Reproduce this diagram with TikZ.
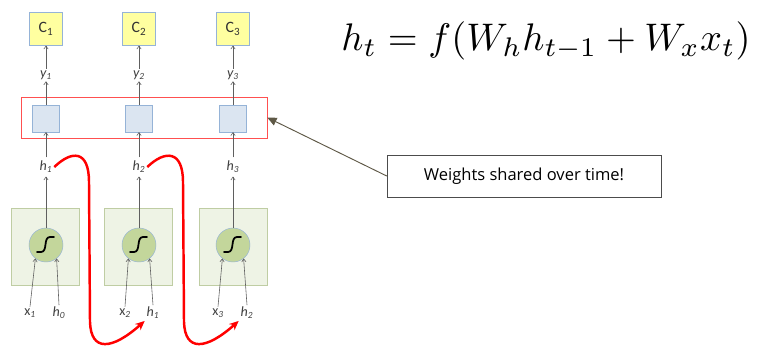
\documentclass[tikz,border=0pt]{standalone}
\usepackage{fontspec}
\usepackage{graphicx}
\usepackage{tikz}
\usetikzlibrary{arrows.meta, positioning}
\newfontfamily\labelfont{Carlito}
\newfontfamily\notefont{Open Sans}
\definecolor{outyellow}{RGB}{255,255,160}
\definecolor{cellblue}{RGB}{149,179,215}
\definecolor{celllight}{RGB}{219,229,241}
\definecolor{rnngreen}{RGB}{195,214,155}
\definecolor{rnnlight}{RGB}{238,243,229}
\definecolor{sharedred}{RGB}{255,80,80}
\definecolor{labelgray}{RGB}{64,64,64}
\definecolor{arrowgray}{RGB}{95,95,95}
\definecolor{noteolive}{RGB}{94,88,70}
\tikzset{
  outbox/.style={rectangle, draw=cellblue, fill=outyellow, minimum size=0.99cm,
    inner sep=0pt, font=\labelfont\fontsize{13.5}{15}\selectfont, text=black!80},
  cellbox/.style={rectangle, draw=cellblue, fill=celllight, minimum size=0.81cm},
  rnnbox/.style={rectangle, draw=rnngreen!90!black!80, fill=rnnlight,
    minimum width=2.04cm, minimum height=2.31cm},
  sigmoid/.style={circle, draw=cellblue, fill=rnngreen, minimum size=1.02cm, inner sep=0pt},
  lbl/.style={inner sep=1.5pt, font=\labelfont\itshape\fontsize{12}{13}\selectfont, text=labelgray},
  arrow/.style={-{To[length=3pt,width=4pt]}, color=arrowgray, line width=0.5pt},
  recur/.style={-{Stealth[length=8pt,width=7pt]}, line width=2.1pt, color=red},
  note/.style={rectangle, draw=black!70, fill=white, minimum width=8.22cm,
    minimum height=1.26cm, font=\notefont\fontsize{14.1}{16}\selectfont, text=black},
}

\begin{document}
\begin{tikzpicture}[x=0.03cm, y=-0.03cm]
  \useasboundingbox (0,0) rectangle (758,351);
  % formula
  \node (eq) at (546,41) {\scalebox{3.28}{$h_t = f(W_h h_{t-1} + W_x x_t)$}};
  % shared weights
  \node[draw=sharedred, minimum width=7.38cm, minimum height=1.23cm]
    (shared) at (144,117.5) {};
  \node[outbox] (c1) at (46,29) {C\textsubscript{1}};
  \node[outbox] (c2) at (139,29) {C\textsubscript{2}};
  \node[outbox] (c3) at (233,29) {C\textsubscript{3}};
  \node[lbl] (y1) at (46,75) {y\textsubscript{1}};
  \node[lbl] (y2) at (139,75) {y\textsubscript{2}};
  \node[lbl] (y3) at (233,75) {y\textsubscript{3}};
  \node[cellbox] (w1) at (46,118.5) {};
  \node[cellbox] (w2) at (139,118.5) {};
  \node[cellbox] (w3) at (233,118.5) {};
  \node[lbl, inner ysep=3pt] (h1) at (46,167) {h\textsubscript{1}};
  \node[lbl, inner ysep=3pt] (h2) at (139,167) {h\textsubscript{2}};
  \node[lbl, inner ysep=3pt] (h3) at (233,167) {h\textsubscript{3}};
  % unrolled cells
  \node[rnnbox] (r1) at (45,246.5) {};
  \node[rnnbox] (r2) at (138,246.5) {};
  \node[rnnbox] (r3) at (233,246.5) {};
  \node[sigmoid] (s1) at (46,245) {};
  \node[sigmoid] (s2) at (139,245) {};
  \node[sigmoid] (s3) at (233,245) {};
  \node[lbl, font=\labelfont\fontsize{12}{13}\selectfont] (x1) at (30,313) {x\textsubscript{\itshape 1}};
  \node[lbl] (h0) at (59,313) {h\textsubscript{0}};
  \node[lbl, font=\labelfont\fontsize{12}{13}\selectfont] (x2) at (125,313) {x\textsubscript{\itshape 2}};
  \node[lbl] (hin2) at (153,313) {h\textsubscript{1}};
  \node[lbl, font=\labelfont\fontsize{12}{13}\selectfont] (x3) at (218,313) {x\textsubscript{\itshape 3}};
  \node[lbl] (hin3) at (247,313) {h\textsubscript{2}};
  \node[note] (wnote) at (524,176) {Weights shared over time!};

  \foreach \i in {1,2,3} {
    \draw[line width=1.5pt, line cap=round] (s\i.center) ++(-9,7) -- ++(4,0)
      .. controls +(7,0) and +(-7,0) .. ++(9,-15) -- ++(4,0);
    \draw[arrow] (y\i) -- (c\i);
    \draw[arrow] (w\i) -- (y\i);
    \draw[arrow] (h\i) -- (w\i);
    \draw[arrow] (s\i) -- (h\i);
  }
  \draw[arrow] (x1.north) -- (s1.-128);
  \draw[arrow] (h0.north) -- (s1.-52);
  \draw[arrow] (x2.north) -- (s2.-128);
  \draw[arrow] (hin2.north) -- (s2.-52);
  \draw[arrow] (x3.north) -- (s3.-128);
  \draw[arrow] (hin3.north) -- (s3.-52);
  % recurrence
  \draw[recur] (h1.east) .. controls (72,150) and (89,150) .. (89,182)
    -- (90,322) .. controls (91,352) and (112,350) .. (hin2.south west);
  \draw[recur] (h2.east) .. controls (165,150) and (183,150) .. (183,182)
    -- (184,322) .. controls (185,352) and (206,350) .. (hin3.south west);
  \draw[-{Triangle[length=8pt,width=7pt]}, color=noteolive, line width=0.8pt]
    (wnote.west) -- (shared.east);
\end{tikzpicture}
\end{document}
